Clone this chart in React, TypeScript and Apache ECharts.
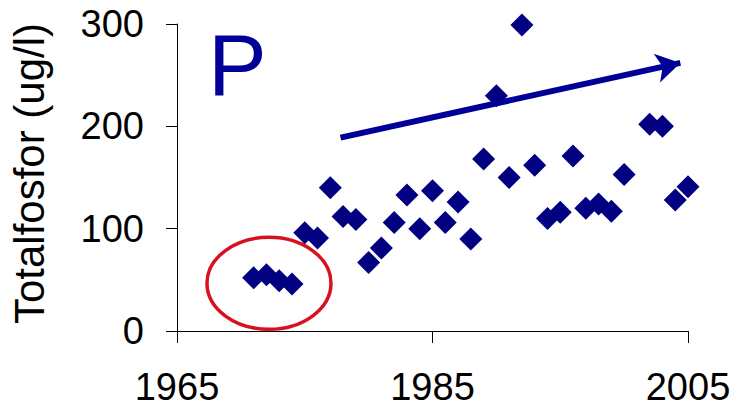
import React, { useEffect, useRef } from "react";
import * as echarts from "echarts";

const years = [1971, 1972, 1973, 1974, 1975, 1976, 1977, 1978, 1979, 1980, 1981, 1982, 1983, 1984, 1985, 1986, 1987, 1988, 1989, 1990, 1991, 1992, 1993, 1994, 1995, 1996, 1997, 1998, 1999, 2000, 2002, 2003, 2004, 2005];
const values = [52, 55, 49, 46, 96, 91, 140, 112, 109, 67, 81, 106, 133, 100, 137, 106, 126, 90, 168, 230, 150, 299, 162, 110, 116, 171, 120, 124, 117, 153, 202, 200, 128, 141];
const trendStart = [1977.8, 189];
const trendEnd = [2004.4, 262];
const circleCenter = [1972.2, 46.6];
const yTicks = { min: 0, max: 300, interval: 100 };
const xTicks = { min: 1965, max: 2005, interval: 20 };

const FONT = "'Liberation Sans', Arial, sans-serif";

export default function App() {
  const ref = useRef<HTMLDivElement>(null);
  useEffect(() => {
    if (!ref.current) return;
    const chart = echarts.init(ref.current, undefined, { renderer: "svg" });
    const data = years.map((y, i) => [y, values[i]]);
    chart.setOption({
      animation: false,
      backgroundColor: "#ffffff",
      grid: { left: 177, right: 47, top: 24, bottom: 78, containLabel: false, outerBoundsMode: "none" },
      xAxis: {
        type: "value",
        min: xTicks.min,
        max: xTicks.max,
        interval: xTicks.interval,
        axisLine: { show: true, lineStyle: { color: "#000", width: 1 } },
        axisTick: { show: true, inside: false, length: 12, lineStyle: { color: "#000" } },
        splitLine: { show: false },
        axisLabel: {
          fontSize: 38,
          color: "#000",
          fontFamily: FONT,
          margin: 37,
          formatter: (v: number) => String(v),
        },
      },
      yAxis: {
        type: "value",
        min: yTicks.min,
        max: yTicks.max,
        interval: yTicks.interval,
        name: "Totalfosfor (ug/l)",
        nameLocation: "middle",
        nameGap: 127,
        nameTextStyle: { fontSize: 42, color: "#000", fontFamily: FONT, padding: [0, 0, 0, 8] },
        axisLine: { show: true, lineStyle: { color: "#000", width: 1 } },
        axisTick: { show: true, inside: false, length: 11, lineStyle: { color: "#000" } },
        splitLine: { show: false },
        axisLabel: { fontSize: 38, color: "#000", fontFamily: FONT, margin: 33 },
      },
      series: [
        {
          type: "scatter",
          symbol: "diamond",
          symbolSize: 23,
          itemStyle: { color: "#000080", opacity: 1 },
          data,
          silent: true,
          markLine: {
            silent: true,
            symbol: ["none", "arrow"],
            symbolSize: [22, 24],
            label: { show: false },
            lineStyle: { color: "#000099", width: 6, type: "solid", opacity: 1 },
            emphasis: { disabled: true },
            data: [[{ coord: trendStart }, { coord: trendEnd }]],
          },
        },
      ],
    });
    const c = chart.convertToPixel({ seriesIndex: 0 }, circleCenter) as number[];
    chart.setOption({
      graphic: [
        {
          type: "ellipse",
          shape: { cx: c[0], cy: c[1], rx: 62, ry: 46 },
          style: { fill: "none", stroke: "#D9101E", lineWidth: 3.5 },
          silent: true,
        },
        {
          type: "text",
          x: 208,
          y: 64,
          style: {
            text: "P",
            fontSize: 88,
            fontFamily: FONT,
            fill: "#000099",
            align: "left",
            verticalAlign: "middle",
          },
          silent: true,
        },
      ],
    });
    return () => chart.dispose();
  }, []);
  return (
    <div
      ref={ref}
      style={{ position: "fixed", left: 0, top: 0, width: 735, height: 409 }}
    />
  );
}
